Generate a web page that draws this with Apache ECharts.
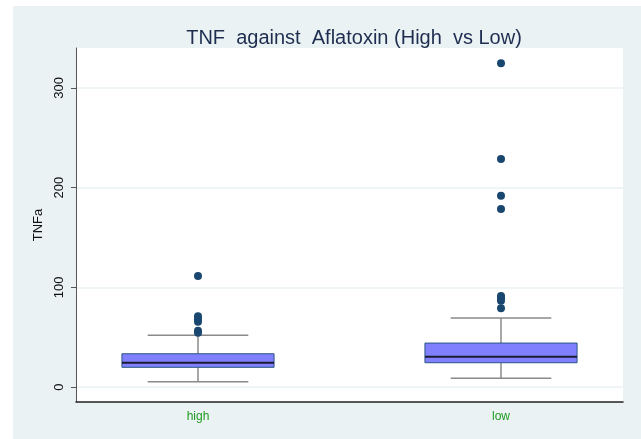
<!DOCTYPE html>
<html>
<head>
<meta charset="utf-8">
<script src="https://cdn.jsdelivr.net/npm/echarts@6/dist/echarts.min.js"></script>
<style>
  html, body { margin: 0; padding: 0; background: #ffffff; }
  #chart { width: 641px; height: 439px; }
</style>
</head>
<body>
<div id="chart"></div>
<script>
// TNFa distribution by aflatoxin exposure group
const categories = ['high', 'low'];
const whiskerLow = [5.3, 8.7];
const quartile1 = [19.8, 24.4];
const medians = [24.4, 30.4];
const quartile3 = [33.4, 44.1];
const whiskerHigh = [51.9, 69.2];
const outliersHigh = [54.5, 56.5, 65.5, 68, 71, 111.3];
const outliersLow = [78.9, 86.6, 89, 91.3, 178.5, 191.9, 228.7, 324.7];
const yTicks = [0, 100, 200, 300];

const boxData = categories.map((c, i) => [i, whiskerLow[i], quartile1[i], medians[i], quartile3[i], whiskerHigh[i]]);
const outlierData = [];
outliersHigh.forEach(v => outlierData.push([0, v]));
outliersLow.forEach(v => outlierData.push([1, v]));

const chart = echarts.init(document.getElementById('chart'), null, { renderer: 'canvas' });
const FONT = 'Liberation Sans, Arial, sans-serif';

chart.setOption({
  animation: false,
  backgroundColor: '#ffffff',
  graphic: [{
    type: 'rect', z: -10, silent: true,
    shape: { x: 13, y: 6, width: 628, height: 433 },
    style: { fill: '#eaf2f3' }
  }],
  title: {
    text: 'TNF  against  Aflatoxin (High  vs Low)',
    left: 349, top: 23, textAlign: 'center',
    textStyle: { fontFamily: FONT, fontSize: 20, fontWeight: 'normal', color: '#1e2d50' }
  },
  grid: {
    left: 76, top: 48, right: 18, bottom: 37,
    show: true, backgroundColor: '#ffffff', borderWidth: 0
  },
  xAxis: {
    type: 'value', min: -0.4026, max: 1.4026,
    axisLine: { show: true, onZero: false, lineStyle: { color: '#222', width: 1.5 } },
    axisTick: { show: false },
    splitLine: { show: false },
    axisLabel: {
      customValues: [0, 1],
      formatter: v => categories[Math.round(v)],
      color: '#1f9a1f', fontFamily: FONT, fontSize: 12, margin: 9
    }
  },
  yAxis: {
    type: 'value', min: -15, max: 340,
    name: 'TNFa', nameLocation: 'middle', nameGap: 30, nameRotate: 90,
    nameTextStyle: { fontFamily: FONT, fontSize: 13, color: '#111' },
    axisLine: { show: true, onZero: false, lineStyle: { color: '#555', width: 1 } },
    axisTick: { show: true, customValues: yTicks, length: 5, lineStyle: { color: '#555' } },
    axisLabel: {
      customValues: yTicks, rotate: 90, margin: 10,
      color: '#111', fontFamily: FONT, fontSize: 13
    },
    splitLine: { show: true, lineStyle: { color: '#eaf2f3', width: 1.5 } }
  },
  series: [{
    type: 'custom',
    data: boxData,
    z: 2,
    renderItem: function (params, api) {
      const x = api.value(0);
      const pMin = api.coord([x, api.value(1)]);
      const pQ1 = api.coord([x, api.value(2)]);
      const pMed = api.coord([x, api.value(3)]);
      const pQ3 = api.coord([x, api.value(4)]);
      const pMax = api.coord([x, api.value(5)]);
      const boxW = api.size([0.502, 0])[0];
      const capW = api.size([0.332, 0])[0];
      const cx = pMed[0];
      const whisk = { stroke: '#8a8a8a', lineWidth: 1.5 };
      return {
        type: 'group',
        children: [
          { type: 'line', shape: { x1: cx, y1: pQ3[1], x2: cx, y2: pMax[1] }, style: whisk },
          { type: 'line', shape: { x1: cx, y1: pQ1[1], x2: cx, y2: pMin[1] }, style: whisk },
          { type: 'line', shape: { x1: cx - capW / 2, y1: pMax[1], x2: cx + capW / 2, y2: pMax[1] }, style: whisk },
          { type: 'line', shape: { x1: cx - capW / 2, y1: pMin[1], x2: cx + capW / 2, y2: pMin[1] }, style: whisk },
          { type: 'rect', shape: { x: cx - boxW / 2, y: pQ3[1], width: boxW, height: pQ1[1] - pQ3[1] },
            style: { fill: '#8080ff', stroke: '#2a5580', lineWidth: 1 } },
          { type: 'line', shape: { x1: cx - boxW / 2, y1: pMed[1], x2: cx + boxW / 2, y2: pMed[1] },
            style: { stroke: '#1a1a30', lineWidth: 2 } }
        ]
      };
    }
  }, {
    type: 'scatter',
    data: outlierData,
    symbol: 'circle', symbolSize: 8,
    itemStyle: { color: '#1a476f', opacity: 1 },
    z: 3
  }]
});
</script>
</body>
</html>
